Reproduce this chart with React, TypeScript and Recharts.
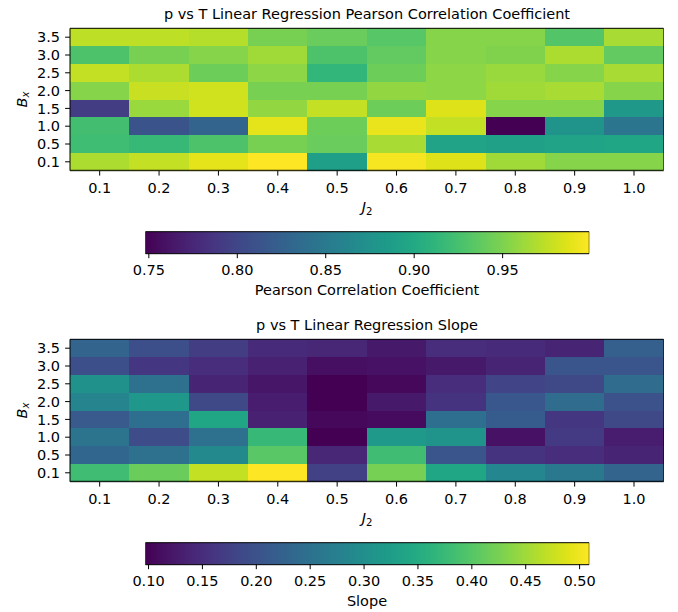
import React from 'react';
import { ScatterChart, Scatter, XAxis, YAxis, BarChart, Bar } from 'recharts';

const J2_VALUES = [0.1, 0.2, 0.3, 0.4, 0.5, 0.6, 0.7, 0.8, 0.9, 1.0];
const BX_LABELS = ['0.1', '0.5', '1.0', '1.5', '2.0', '2.5', '3.0', '3.5'];

// rows go from Bx = 0.1 (bottom) to Bx = 3.5 (top), columns follow J2_VALUES
const pearsonRows = [
  [0.968, 0.976, 0.989, 0.999, 0.888, 0.996, 0.986, 0.963, 0.953, 0.953],
  [0.921, 0.916, 0.928, 0.948, 0.941, 0.966, 0.893, 0.891, 0.893, 0.896],
  [0.923, 0.813, 0.828, 0.989, 0.943, 0.991, 0.976, 0.748, 0.876, 0.846],
  [0.793, 0.961, 0.981, 0.958, 0.976, 0.943, 0.986, 0.953, 0.953, 0.881],
  [0.953, 0.978, 0.981, 0.948, 0.948, 0.958, 0.956, 0.963, 0.966, 0.953],
  [0.976, 0.968, 0.943, 0.956, 0.913, 0.943, 0.956, 0.961, 0.953, 0.966],
  [0.928, 0.948, 0.953, 0.963, 0.928, 0.938, 0.953, 0.951, 0.968, 0.938],
  [0.974, 0.974, 0.971, 0.948, 0.941, 0.933, 0.953, 0.953, 0.931, 0.966],
];

const slopeRows = [
  [0.381, 0.414, 0.472, 0.509, 0.175, 0.423, 0.34, 0.286, 0.262, 0.228],
  [0.233, 0.249, 0.29, 0.402, 0.142, 0.381, 0.204, 0.158, 0.15, 0.138],
  [0.253, 0.191, 0.249, 0.373, 0.097, 0.319, 0.307, 0.117, 0.167, 0.129],
  [0.212, 0.245, 0.34, 0.134, 0.105, 0.109, 0.245, 0.216, 0.162, 0.187],
  [0.282, 0.315, 0.187, 0.129, 0.097, 0.125, 0.158, 0.208, 0.241, 0.2],
  [0.303, 0.249, 0.138, 0.121, 0.097, 0.105, 0.15, 0.179, 0.187, 0.241],
  [0.195, 0.162, 0.15, 0.134, 0.113, 0.117, 0.125, 0.138, 0.204, 0.204],
  [0.228, 0.195, 0.171, 0.146, 0.142, 0.125, 0.15, 0.146, 0.138, 0.22],
];

const pearsonTicks = [0.75, 0.8, 0.85, 0.9, 0.95];
const slopeTicks = [0.1, 0.15, 0.2, 0.25, 0.3, 0.35, 0.4, 0.45, 0.5];

// viridis colormap, 21 stops
const VIRIDIS = [
  '#440154', '#471365', '#482475', '#463480', '#414487', '#3b528b', '#355f8d',
  '#2f6c8e', '#2a788e', '#25848e', '#21918c', '#1e9c89', '#22a884', '#2fb47c',
  '#44bf70', '#5ec962', '#7ad151', '#9bd93c', '#bddf26', '#dfe318', '#fde725',
];

const hexToRgb = (h: string) => [1, 3, 5].map((i) => parseInt(h.slice(i, i + 2), 16));

const viridis = (t: number) => {
  const c = Math.max(0, Math.min(1, t)) * (VIRIDIS.length - 1);
  const i = Math.min(Math.floor(c), VIRIDIS.length - 2);
  const f = c - i;
  const a = hexToRgb(VIRIDIS[i]);
  const b = hexToRgb(VIRIDIS[i + 1]);
  const rgb = a.map((v, k) => Math.round(v + (b[k] - v) * f));
  return `rgb(${rgb.join(',')})`;
};

const FONT = 14.5;
const PLOT_W = 594;
const PLOT_H = 142.4;
const CELL_W = PLOT_W / J2_VALUES.length;
const CELL_H = PLOT_H / BX_LABELS.length;
const X_DOMAIN: [number, number] = [0.05, 1.05];
const Y_DOMAIN: [number, number] = [-0.5, 7.5];
const tickStyle = { fontSize: FONT, fill: '#000' };

interface HeatmapProps {
  title: string;
  rows: number[][];
}

function Heatmap({ title, rows }: HeatmapProps) {
  const all = rows.flat();
  const vmin = Math.min(...all);
  const vmax = Math.max(...all);
  const data = rows.flatMap((row, i) => row.map((v, j) => ({ x: J2_VALUES[j], y: i, v })));

  const CellShape = (props: any) => {
    const { cx, cy, payload } = props;
    return (
      <rect
        x={cx - CELL_W / 2}
        y={cy - CELL_H / 2}
        width={CELL_W}
        height={CELL_H}
        fill={viridis((payload.v - vmin) / (vmax - vmin))}
        shapeRendering="crispEdges"
      />
    );
  };

  return (
    <div style={{ position: 'relative', width: 678, height: 220 }}>
      <ScatterChart width={678} height={220} margin={{ top: 28.3, right: 14.3, bottom: 19.3, left: 10 }}>
        <Scatter data={data} shape={CellShape} isAnimationActive={false} />
        <XAxis
          type="number"
          dataKey="x"
          domain={X_DOMAIN}
          ticks={J2_VALUES}
          interval={0}
          tickFormatter={(v: number) => v.toFixed(1)}
          tick={tickStyle}
          tickSize={4.9}
          tickMargin={6.8}
          height={30}
          stroke="#000"
        />
        <YAxis
          type="number"
          dataKey="y"
          domain={Y_DOMAIN}
          ticks={[0, 1, 2, 3, 4, 5, 6, 7]}
          interval={0}
          tickFormatter={(i: number) => BX_LABELS[i]}
          tick={tickStyle}
          tickSize={4.9}
          tickMargin={5}
          width={60}
          stroke="#000"
        />
        <text x={367} y={18.5} textAnchor="middle" fontSize={FONT} fill="#000">
          {title}
        </text>
        <text transform="translate(26.5,99.5) rotate(-90)" textAnchor="middle" fontSize={FONT} fill="#000">
          <tspan fontStyle="italic">B</tspan>
          <tspan fontStyle="italic" fontSize={FONT * 0.7} dy={2.5}>x</tspan>
        </text>
        <text x={367} y={212} textAnchor="middle" fontSize={FONT} fill="#000">
          <tspan fontStyle="italic">J</tspan>
          <tspan fontSize={FONT * 0.7} dy={2.5}>2</tspan>
        </text>
      </ScatterChart>
      {/* axes frame drawn on top of the cells */}
      <div style={{ position: 'absolute', left: 0, top: 0, pointerEvents: 'none' }}>
        <BarChart
          width={678}
          height={220}
          layout="vertical"
          data={[{ name: 'frame', span: X_DOMAIN }]}
          barCategoryGap={0}
          margin={{ top: 28.3, right: 14.3, bottom: 49.3, left: 70 }}
        >
          <XAxis type="number" domain={X_DOMAIN} hide allowDataOverflow />
          <YAxis type="category" dataKey="name" hide />
          <Bar dataKey="span" fill="none" stroke="#000" strokeWidth={1} isAnimationActive={false} />
        </BarChart>
      </div>
    </div>
  );
}

interface ColorbarProps {
  id: string;
  label: string;
  rows: number[][];
  ticks: number[];
}

function Colorbar({ id, label, rows, ticks }: ColorbarProps) {
  const all = rows.flat();
  const vmin = Math.min(...all);
  const vmax = Math.max(...all);
  const data = [{ name: 'cb', range: [vmin, vmax] }];

  return (
    <BarChart
      width={678}
      height={80}
      layout="vertical"
      data={data}
      barCategoryGap={0}
      margin={{ top: 11.7, right: 88.7, bottom: 6.7, left: 145.3 }}
    >
      <defs>
        <linearGradient id={id} x1="0" y1="0" x2="1" y2="0">
          {VIRIDIS.map((c, i) => (
            <stop key={i} offset={i / (VIRIDIS.length - 1)} stopColor={c} />
          ))}
        </linearGradient>
      </defs>
      <Bar dataKey="range" fill={`url(#${id})`} stroke="#000" strokeWidth={1} isAnimationActive={false} />
      <XAxis
        type="number"
        domain={[vmin, vmax]}
        ticks={ticks}
        interval={0}
        tickFormatter={(v: number) => v.toFixed(2)}
        tick={tickStyle}
        tickSize={4.9}
        tickMargin={6.8}
        axisLine={false}
        tickLine={{ stroke: '#000' }}
        height={40}
        allowDataOverflow
      />
      <YAxis type="category" dataKey="name" hide />
      <text x={367} y={75} textAnchor="middle" fontSize={FONT} fill="#000">
        {label}
      </text>
    </BarChart>
  );
}

export default function App() {
  return (
    <div style={{ position: 'absolute', left: 0, top: 0, width: 678, height: 612, background: '#fff', fontFamily: '"DejaVu Sans", sans-serif' }}>
      <div style={{ position: 'absolute', left: 0, top: 0 }}>
        <Heatmap title="p vs T Linear Regression Pearson Correlation Coefficient" rows={pearsonRows} />
      </div>
      <div style={{ position: 'absolute', left: 0, top: 220 }}>
        <Colorbar id="cbPearson" label="Pearson Correlation Coefficient" rows={pearsonRows} ticks={pearsonTicks} />
      </div>
      <div style={{ position: 'absolute', left: 0, top: 311.4 }}>
        <Heatmap title="p vs T Linear Regression Slope" rows={slopeRows} />
      </div>
      <div style={{ position: 'absolute', left: 0, top: 531.4 }}>
        <Colorbar id="cbSlope" label="Slope" rows={slopeRows} ticks={slopeTicks} />
      </div>
    </div>
  );
}
